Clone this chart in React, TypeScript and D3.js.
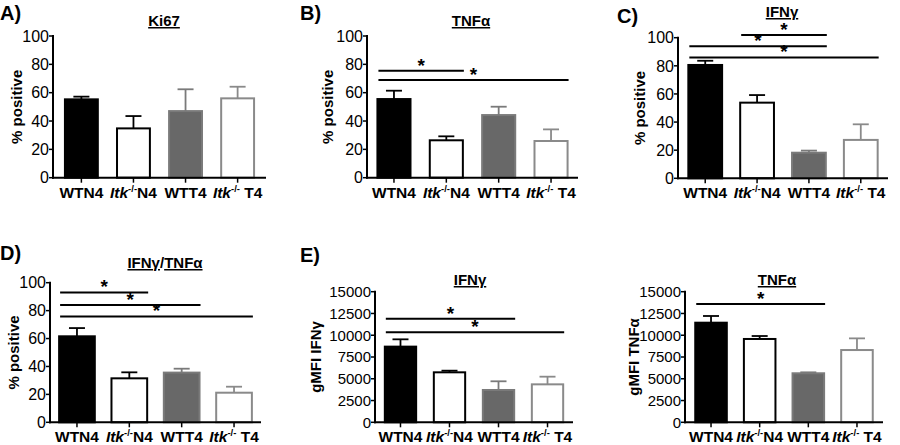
import React from "react";
import * as d3 from "d3";

const FONT = "'Liberation Sans', Arial, Helvetica, sans-serif";

// ---- data ----
const categories = ["WTN4", "Itk-/-N4", "WTT4", "Itk-/- T4"];
const pctTicks = [0, 20, 40, 60, 80, 100];
const mfiTicks = [0, 2500, 5000, 7500, 10000, 12500, 15000];

const ki67Mean = [55.3, 34.8, 47.0, 56.0];
const ki67Sem = [1.9, 8.7, 15.4, 8.2];
const ki67Sig: [number, number, number][] = [];

const tnfMean = [55.5, 26.4, 44.2, 25.9];
const tnfSem = [5.9, 2.8, 5.9, 8.2];
const tnfSig: [number, number, number][] = [
  [0, 1, 75.5],
  [0, 3, 69],
];

const ifnMean = [80.6, 53.8, 18.2, 27.3];
const ifnSem = [3.0, 5.4, 1.5, 11.1];
const ifnSig: [number, number, number][] = [
  [1, 2, 102],
  [0, 2, 94],
  [0, 3, 86],
];

const dualMean = [61.6, 31.5, 35.6, 21.2];
const dualSem = [5.9, 4.3, 2.8, 4.3];
const dualSig: [number, number, number][] = [
  [0, 1, 93],
  [0, 2, 84.1],
  [0, 3, 75.8],
];

const mfiIfnMean = [8690, 5740, 3710, 4360];
const mfiIfnSem = [840, 190, 1000, 880];
const mfiIfnSig: [number, number, number][] = [
  [0, 2, 11900],
  [0, 3, 10337],
];

const mfiTnfMean = [11440, 9570, 5630, 8300];
const mfiTnfSem = [770, 340, 110, 1340];
const mfiTnfSig: [number, number, number][] = [[0, 2, 13587]];

const barFill = ["#000000", "#ffffff", "#686868", "#ffffff"];
const barStroke = ["#000000", "#000000", "#7a7a7a", "#8a8a8a"];

function CatLabel({ name, x, y }: { name: string; x: number; y: number }) {
  if (name.startsWith("Itk")) {
    const rest = name.slice(6);
    return (
      <text x={x} y={y} textAnchor="middle" fontFamily={FONT} fontWeight="bold" fontSize={15.5}>
        <tspan fontStyle="italic">Itk</tspan>
        <tspan fontSize={9.5} dy={-6}>-/-</tspan>
        <tspan dy={6}>{rest}</tspan>
      </text>
    );
  }
  return (
    <text x={x} y={y} textAnchor="middle" fontFamily={FONT} fontWeight="bold" fontSize={15.5}>
      {name}
    </text>
  );
}

type Cfg = {
  label: string;
  labelX: number;
  labelY: number;
  title: React.ReactNode;
  titleX: number;
  titleY: number;
  yLabel: string;
  yLabelX: number;
  x0: number;
  x1: number;
  yTop: number;
  yZero: number;
  yMax: number;
  ticks: number[];
  tickFont: number;
  mean: number[];
  sem: number[];
  sig: [number, number, number][];
  pi: number;
  po: number;
};

function Panel({ c }: { c: Cfg }) {
  const x = d3
    .scaleBand<number>()
    .domain(d3.range(categories.length))
    .range([c.x0, c.x1])
    .paddingInner(c.pi)
    .paddingOuter(c.po);
  const y = d3.scaleLinear().domain([0, c.yMax]).range([c.yZero, c.yTop]);
  const bw = x.bandwidth();
  const capW = 16;
  return (
    <g>
      <text x={c.labelX} y={c.labelY} fontFamily={FONT} fontWeight="bold" fontSize={20}>
        {c.label}
      </text>
      <text x={c.titleX} y={c.titleY} textAnchor="middle" fontFamily={FONT} fontWeight="bold" fontSize={15}>
        {c.title}
      </text>
      <text
        transform={`translate(${c.yLabelX},${(c.yZero + c.yTop) / 2}) rotate(-90)`}
        textAnchor="middle"
        fontFamily={FONT}
        fontWeight="bold"
        fontSize={15}
      >
        {c.yLabel}
      </text>
      {/* bars */}
      {c.mean.map((m, i) => {
        const bx = x(i)!;
        return (
          <rect
            key={"b" + i}
            x={bx + 1}
            y={y(m)}
            width={bw - 2}
            height={y(0) - y(m)}
            fill={barFill[i]}
            stroke={barStroke[i]}
            strokeWidth={2}
          />
        );
      })}
      {/* error bars */}
      {c.mean.map((m, i) => {
        const cx = x(i)! + bw / 2;
        const top = y(m + c.sem[i]);
        return (
          <g key={"e" + i} stroke={barStroke[i]} strokeWidth={1.8}>
            <line x1={cx} x2={cx} y1={y(m)} y2={top} />
            <line x1={cx - capW / 2} x2={cx + capW / 2} y1={top} y2={top} />
          </g>
        );
      })}
      {/* axes */}
      <line x1={c.x0} x2={c.x0} y1={c.yZero + 1} y2={y(c.yMax) - 1} stroke="#000" strokeWidth={2} />
      <line x1={c.x0 - 1} x2={c.x1} y1={c.yZero} y2={c.yZero} stroke="#000" strokeWidth={2} />
      {c.ticks.map((t) => (
        <g key={"t" + t}>
          <line x1={c.x0 - 4} x2={c.x0} y1={y(t)} y2={y(t)} stroke="#000" strokeWidth={1.5} />
          <text
            x={c.x0 - 4}
            y={y(t)}
            dy="0.36em"
            textAnchor="end"
            fontFamily={FONT}
            fontSize={c.tickFont}
          >
            {t}
          </text>
        </g>
      ))}
      {categories.map((name, i) => {
        const cx = x(i)! + bw / 2;
        return (
          <g key={"c" + i}>
            <line x1={cx} x2={cx} y1={c.yZero} y2={c.yZero + 5} stroke="#000" strokeWidth={1.5} />
            <CatLabel name={name} x={cx} y={c.yZero + 20} />
          </g>
        );
      })}
      {/* significance */}
      {c.sig.map(([a, b, v], k) => {
        const lx1 = x(a)! + 2;
        const lx2 = x(b)! + bw;
        const ly = y(v);
        return (
          <g key={"s" + k}>
            <line x1={lx1} x2={lx2} y1={ly} y2={ly} stroke="#000" strokeWidth={2} />
            <text
              x={(lx1 + lx2) / 2}
              y={ly + 1}
              textAnchor="middle"
              fontFamily={FONT}
              fontWeight="bold"
              fontSize={19}
            >
              *
            </text>
          </g>
        );
      })}
    </g>
  );
}

const u = (s: string) => <tspan textDecoration="underline">{s}</tspan>;

const panels: Cfg[] = [
  {
    label: "A)", labelX: 0, labelY: 20,
    title: u("Ki67"), titleX: 164, titleY: 26,
    yLabel: "% positive", yLabelX: 22,
    x0: 53, x1: 266, yTop: 36, yZero: 177.7, yMax: 100, ticks: pctTicks, tickFont: 16,
    mean: ki67Mean, sem: ki67Sem, sig: ki67Sig, pi: 0.33, po: 0.21,
  },
  {
    label: "B)", labelX: 300, labelY: 20,
    title: u("TNFα"), titleX: 471, titleY: 26,
    yLabel: "% positive", yLabelX: 333,
    x0: 367, x1: 578, yTop: 36, yZero: 177.7, yMax: 100, ticks: pctTicks, tickFont: 16,
    mean: tnfMean, sem: tnfSem, sig: tnfSig, pi: 0.33, po: 0.18,
  },
  {
    label: "C)", labelX: 617, labelY: 23,
    title: u("IFNγ"), titleX: 782, titleY: 17,
    yLabel: "% positive", yLabelX: 645,
    x0: 678, x1: 888, yTop: 37.7, yZero: 178.3, yMax: 100, ticks: pctTicks, tickFont: 16,
    mean: ifnMean, sem: ifnSem, sig: ifnSig, pi: 0.31, po: 0.18,
  },
  {
    label: "D)", labelX: 0, labelY: 260,
    title: (
      <>
        {u("IFNγ")}
        <tspan>/</tspan>
        {u("TNFα")}
      </>
    ),
    titleX: 165, titleY: 268,
    yLabel: "% positive", yLabelX: 19,
    x0: 50, x1: 261, yTop: 282.7, yZero: 422.3, yMax: 100, ticks: pctTicks, tickFont: 16,
    mean: dualMean, sem: dualSem, sig: dualSig, pi: 0.28, po: 0.155,
  },
  {
    label: "E)", labelX: 300, labelY: 262,
    title: u("IFNγ"), titleX: 470, titleY: 285,
    yLabel: "gMFI IFNγ", yLabelX: 321,
    x0: 375, x1: 573, yTop: 291.7, yZero: 422.3, yMax: 15000, ticks: mfiTicks, tickFont: 15,
    mean: mfiIfnMean, sem: mfiIfnSem, sig: mfiIfnSig, pi: 0.32, po: 0.18,
  },
  {
    label: "", labelX: 600, labelY: 262,
    title: u("TNFα"), titleX: 777, titleY: 285,
    yLabel: "gMFI TNFα", yLabelX: 639,
    x0: 685, x1: 883, yTop: 291.7, yZero: 422.3, yMax: 15000, ticks: mfiTicks, tickFont: 15,
    mean: mfiTnfMean, sem: mfiTnfSem, sig: mfiTnfSig, pi: 0.31, po: 0.19,
  },
];

export default function App() {
  return (
    <svg
      width={900}
      height={445}
      viewBox="0 0 900 445"
      style={{ position: "absolute", left: 0, top: 0, display: "block", background: "#fff" }}
    >
      <rect width={900} height={445} fill="#fff" />
      {panels.map((p, i) => (
        <Panel key={i} c={p} />
      ))}
    </svg>
  );
}
